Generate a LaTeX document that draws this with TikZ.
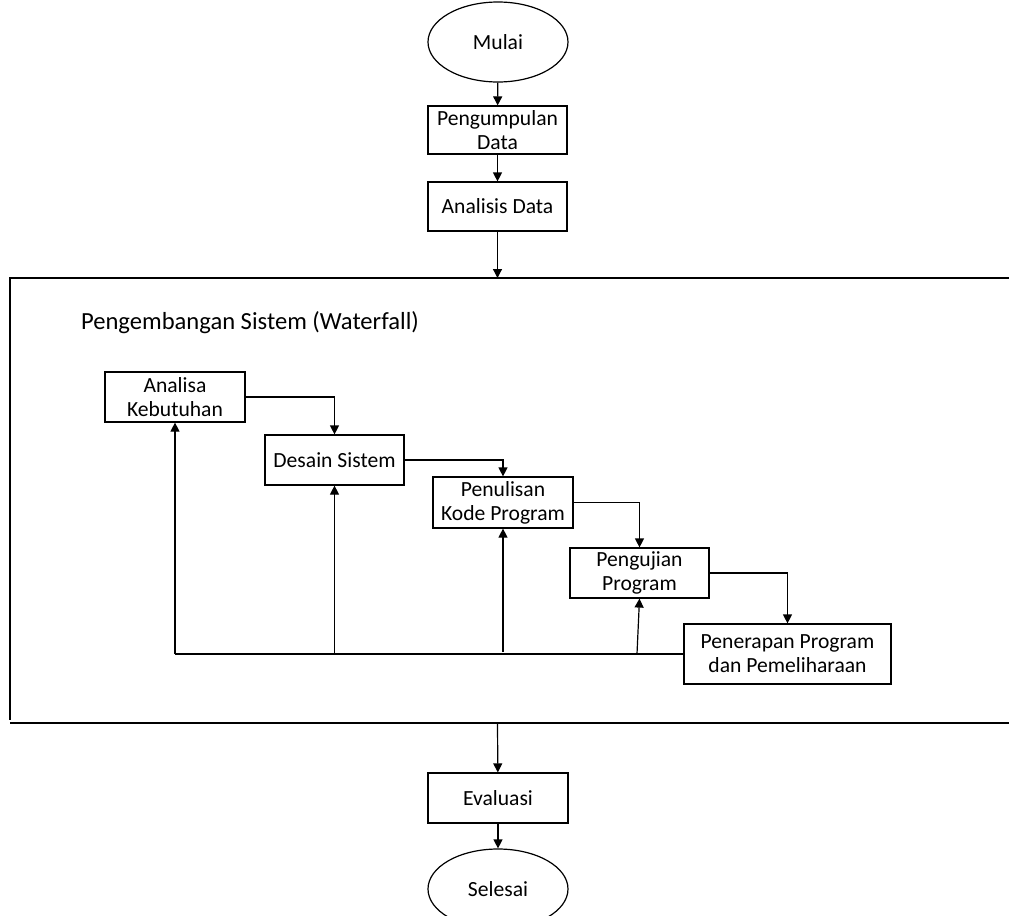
\documentclass[tikz,border=0pt]{standalone}
\usepackage{fontspec}
\setmainfont{Carlito}
\usetikzlibrary{arrows.meta,shapes.geometric}
\begin{document}
\begin{tikzpicture}[x=0.5pt,y=-0.5pt,
  every node/.style={font=\fontsize{10.8}{12}\selectfont},
  procbox/.style={draw,line width=0.6pt,inner sep=0pt,align=center,minimum width=#1},
  procbox/.default=69.5pt,
  term/.style={draw,line width=0.6pt,ellipse,minimum width=70pt,minimum height=40pt,inner sep=0pt},
  conn/.style={line width=0.6pt,-{Triangle[length=4.5pt,width=4.5pt]}},
  plain/.style={line width=0.6pt},
  frame/.style={line width=0.8pt}]
\useasboundingbox (0,0) rectangle (1009,916);

% top part
\node[term] (mulai) at (498,42) {Mulai};
\node[procbox, minimum height=24pt] (kumpul) at (497.5,130) {Pengumpulan\\Data};
\node[procbox, minimum height=24.5pt] (analisis) at (497.5,206.5) {Analisis Data};

% frame
\coordinate (ftop) at (497.5,278);
\coordinate (fbot) at (497.5,723);
\draw[frame] (1009,278) -- (10,278) -- (10,720);
\draw[frame] (10,723) -- (1009,723);
\node[anchor=west,font=\fontsize{12.3}{14}\selectfont] (judul) at (74,323) {Pengembangan Sistem (Waterfall)};

% waterfall boxes
\node[procbox=70pt, minimum height=25pt] (keb) at (175,397) {Analisa\\Kebutuhan};
\node[procbox, minimum height=25pt] (desain) at (334.5,460) {Desain Sistem};
\node[procbox=70pt, minimum height=25.5pt] (kode) at (503,502.5) {Penulisan\\Kode Program};
\node[procbox, minimum height=25pt] (uji) at (639.5,573) {Pengujian\\Program};
\node[procbox=103.5pt, minimum height=30pt] (terap) at (787.5,654) {Penerapan Program\\dan Pemeliharaan};

% bottom
\node[procbox=70pt, minimum height=25pt] (eval) at (498,798) {Evaluasi};
\node[term] (selesai) at (498,889) {Selesai};

% main flow
\draw[conn] (mulai) -- (kumpul);
\draw[conn] (kumpul) -- (analisis);
\draw[conn] (analisis) -- (ftop);
\draw[conn] (fbot) -- (eval);
\draw[conn] (eval) -- (selesai);

% waterfall flow
\draw[conn] (keb.east) -| (desain.north);
\draw[conn] (desain.east) -| (kode.north);
\draw[conn] (kode.east) -| (uji.north);
\draw[conn] (uji.east) -| (terap.north);

% feedback
\coordinate (fbA) at (175,654);
\coordinate (fbB) at (334.5,654);
\coordinate (fbC) at (503,652);
\coordinate (fbD) at (637,654);
\draw[plain] (terap.west) -- (fbA);
\draw[conn] (fbA) -- (keb.south);
\draw[conn] (fbB) -- (desain.south);
\draw[conn] (fbC) -- (kode.south);
\draw[conn] (fbD) -- (uji.south);
\end{tikzpicture}
\end{document}
